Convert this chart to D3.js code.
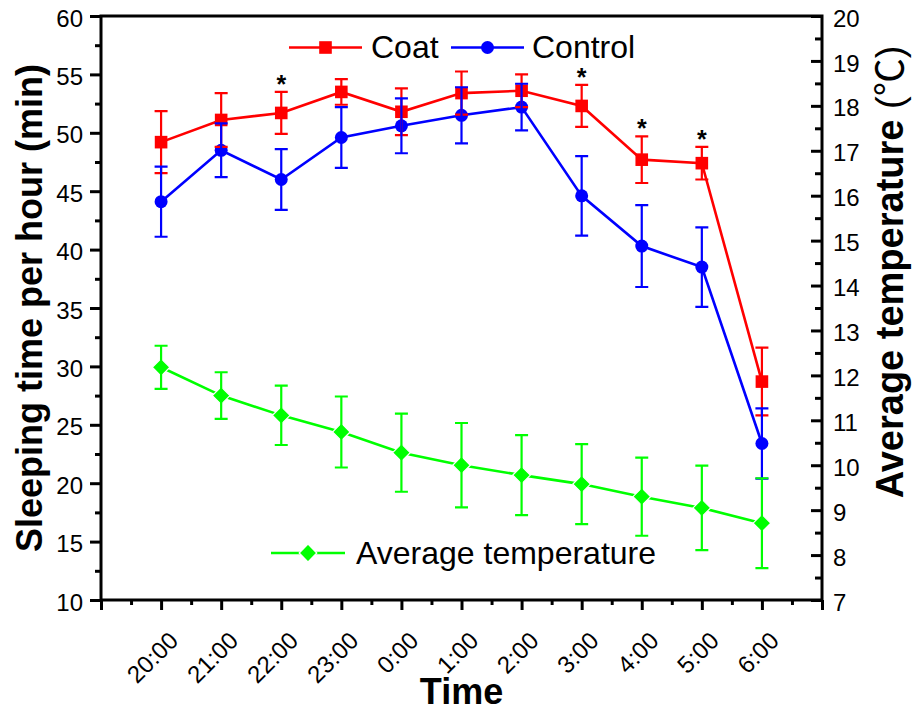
<!DOCTYPE html>
<html>
<head>
<meta charset="utf-8">
<script src="https://cdn.jsdelivr.net/npm/d3@7"></script>
<style>
  html, body { margin: 0; padding: 0; background: #fff; }
  svg { display: block; font-family: "Liberation Sans", Arial, sans-serif; }
</style>
</head>
<body>
<svg id="chart" width="913" height="715"></svg>
<script>
// ---- data ----
const categories = ["20:00","21:00","22:00","23:00","0:00","1:00","2:00","3:00","4:00","5:00","6:00"];
const coatMean    = [49.2, 51.1, 51.7, 53.5, 51.8, 53.4, 53.6, 52.3, 47.7, 47.4, 28.7];
const coatErr     = [2.65, 2.3, 1.8, 1.1, 2.0, 1.85, 1.4, 1.8, 2.0, 1.4, 2.9];
const controlMean = [44.1, 48.5, 46.0, 49.6, 50.6, 51.5, 52.2, 44.6, 40.3, 38.5, 23.4];
const controlErr  = [3.0, 2.3, 2.6, 2.6, 2.35, 2.4, 2.0, 3.4, 3.5, 3.4, 3.0];
const tempMean    = [12.18, 11.55, 11.11, 10.74, 10.28, 10.0, 9.78, 9.58, 9.30, 9.05, 8.71];
const tempErr     = [0.48, 0.52, 0.66, 0.79, 0.87, 0.94, 0.89, 0.89, 0.87, 0.94, 1.0];
const significant = ["22:00","3:00","4:00","5:00"];
const leftTicks   = [10,15,20,25,30,35,40,45,50,55,60];
const rightTicks  = [7,8,9,10,11,12,13,14,15,16,17,18,19,20];

// ---- layout ----
const L = 101, R = 822, T = 16, B = 600;
const svg = d3.select("#chart");

const x = d3.scaleLinear().domain([-1, categories.length]).range([L, R]);
const yL = d3.scaleLinear().domain([10, 60]).range([B, T]);
const yR = d3.scaleLinear().domain([7, 20]).range([B, T]);

const RED = "#ff0000", BLUE = "#0000ff", GREEN = "#00ff00";

// ---- axes ----
function styleAxis(g) {
  g.select(".domain").remove();
  g.selectAll(".tick line").attr("stroke", "#000").attr("stroke-width", 3);
  g.selectAll(".tick text").attr("fill", "#000").style("font-size", "24px");
}

// left axis
svg.append("g").attr("transform", `translate(${L},0)`)
  .call(d3.axisLeft(yL).tickValues(leftTicks).tickSize(11).tickPadding(7).tickSizeOuter(0))
  .call(styleAxis)
  .call(g => g.selectAll(".tick text").attr("dy", "0.42em"));
svg.append("g").attr("transform", `translate(${L},0)`)
  .call(d3.axisLeft(yL).tickValues(leftTicks.slice(0, -1).map(v => v + 2.5)).tickSize(6).tickFormat(""))
  .call(styleAxis);

// right axis (ticks inward)
svg.append("g").attr("transform", `translate(${R},0)`)
  .call(d3.axisRight(yR).tickValues(rightTicks).tickSize(-11).tickPadding(11).tickSizeOuter(0))
  .call(styleAxis)
  .call(g => g.selectAll(".tick text").attr("dy", "0.42em"));
svg.append("g").attr("transform", `translate(${R},0)`)
  .call(d3.axisRight(yR).tickValues(rightTicks.slice(0, -1).map(v => v + 0.5)).tickSize(-7).tickFormat(""))
  .call(styleAxis);

// bottom axis
const xMajor = d3.range(-1, categories.length + 1);
svg.append("g").attr("transform", `translate(0,${B})`)
  .call(d3.axisBottom(x).tickValues(xMajor).tickSize(10).tickFormat(i => categories[i] || ""))
  .call(styleAxis)
  .call(g => g.selectAll(".tick text")
    .attr("x", 0).attr("y", 0).attr("dy", 0)
    .attr("text-anchor", "end")
    .style("font-size", "24px")
    .attr("transform", "translate(18,42) rotate(-45)"));
svg.append("g").attr("transform", `translate(0,${B})`)
  .call(d3.axisBottom(x).tickValues(xMajor.slice(0, -1).map(v => v + 0.5)).tickSize(5).tickFormat(""))
  .call(styleAxis);

// frame
svg.append("path")
  .attr("d", `M${L},${B}V${T}H${R}V${B}Z`)
  .attr("fill", "none").attr("stroke", "#000").attr("stroke-width", 3)
  .attr("stroke-linejoin", "miter");

// ---- axis titles ----
svg.append("text")
  .attr("transform", `translate(42,${(T + B) / 2}) rotate(-90)`)
  .attr("text-anchor", "middle").style("font-size", "36px").style("font-weight", "bold")
  .text("Sleeping time per hour (min)");
const rt = svg.append("text")
  .attr("transform", `translate(903,${(T + B) / 2 - 36}) rotate(-90)`)
  .attr("text-anchor", "middle").style("font-size", "38px").style("font-weight", "bold");
rt.append("tspan").text("Average temperature ");
rt.append("tspan").style("font-weight", "normal").text("(");
rt.append("tspan").style("font-weight", "normal").style("font-family", "'Noto Sans CJK SC', sans-serif").text("℃");
rt.append("tspan").style("font-weight", "normal").text(")");
svg.append("text")
  .attr("x", (L + R) / 2).attr("y", 704)
  .attr("text-anchor", "middle").style("font-size", "36px").style("font-weight", "bold")
  .text("Time");

// ---- series ----
const series = [
  { name: "Coat", mean: coatMean, err: coatErr, y: yL, color: RED, sym: "square" },
  { name: "Control", mean: controlMean, err: controlErr, y: yL, color: BLUE, sym: "circle" },
  { name: "Average temperature", mean: tempMean, err: tempErr, y: yR, color: GREEN, sym: "diamond" }
];

function drawSymbol(g, sym, color, cx, cy) {
  if (sym === "square") {
    g.append("rect").attr("x", cx - 6.3).attr("y", cy - 6.3).attr("width", 12.6).attr("height", 12.6).attr("fill", color);
  } else if (sym === "circle") {
    g.append("circle").attr("cx", cx).attr("cy", cy).attr("r", 6.5).attr("fill", color);
  } else {
    const s = 8.8;
    g.append("path").attr("d", `M${cx},${cy - s}L${cx + s},${cy}L${cx},${cy + s}L${cx - s},${cy}Z`)
      .attr("fill", color).attr("stroke", "#fff").attr("stroke-width", 1.2);
  }
}

const lineLayer = svg.append("g");
const symLayer = svg.append("g");
const errLayer = svg.append("g");

series.forEach(s => {
  const line = d3.line().x((d, i) => x(i)).y(d => s.y(d));
  lineLayer.append("path").datum(s.mean)
    .attr("d", line).attr("fill", "none").attr("stroke", s.color).attr("stroke-width", 2.6);
  s.mean.forEach((v, i) => drawSymbol(symLayer, s.sym, s.color, x(i), s.y(v)));
  s.mean.forEach((v, i) => {
    const cx = x(i), y1 = s.y(v + s.err[i]), y2 = s.y(v - s.err[i]), c = 6.5;
    errLayer.append("path")
      .attr("d", `M${cx},${y1}V${y2}M${cx - c},${y1}H${cx + c}M${cx - c},${y2}H${cx + c}`)
      .attr("fill", "none").attr("stroke", s.color).attr("stroke-width", 2.2);
  });
});

// significance asterisks (centred ~15px above the Coat error bar)
significant.forEach(cat => {
  const i = categories.indexOf(cat);
  svg.append("text")
    .attr("x", x(i)).attr("y", yL(coatMean[i] + coatErr[i]) + 1)
    .attr("text-anchor", "middle").style("font-size", "25px").style("font-weight", "bold").text("*");
});

// ---- legends ----
function legendItem(s, x0, x1, ly, tx) {
  const g = svg.append("g");
  g.append("line").attr("x1", x0).attr("x2", x1).attr("y1", ly).attr("y2", ly)
    .attr("stroke", s.color).attr("stroke-width", 2.6);
  drawSymbol(g, s.sym, s.color, (x0 + x1) / 2, ly);
  g.append("text").attr("x", tx).attr("y", ly + 10.5).style("font-size", "32px").text(s.name);
}
legendItem(series[0], 289, 362, 47.5, 371);
legendItem(series[1], 451, 524, 47.5, 532);
legendItem(series[2], 271, 345, 553, 356);
</script>
</body>
</html>
